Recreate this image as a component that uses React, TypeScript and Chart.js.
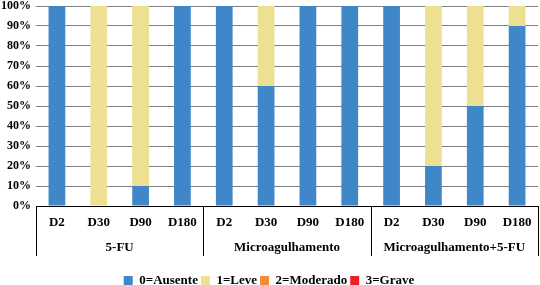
import React, { useEffect, useRef } from 'react';
import { Chart, registerables } from 'chart.js';

Chart.register(...registerables);

const days = ['D2', 'D30', 'D90', 'D180', 'D2', 'D30', 'D90', 'D180', 'D2', 'D30', 'D90', 'D180'];
const groups = ['5-FU', 'Microagulhamento', 'Microagulhamento+5-FU'];
const ausente = [100, 0, 10, 100, 100, 60, 100, 100, 100, 20, 50, 90];
const leve = [0, 100, 90, 0, 0, 40, 0, 0, 0, 80, 50, 10];
const moderado = [0, 0, 0, 0, 0, 0, 0, 0, 0, 0, 0, 0];
const grave = [0, 0, 0, 0, 0, 0, 0, 0, 0, 0, 0, 0];
const seriesNames = ['0=Ausente', '1=Leve', '2=Moderado', '3=Grave'];
const seriesColors = ['#3F87C8', '#EDE093', '#F58B37', '#EE1F2A'];

const FONT = '"Liberation Serif", serif';

const groupPlugin = {
  id: 'groupLabels',
  afterDraw(chart: any) {
    const x = chart.scales.x;
    const ctx = chart.ctx;
    const step = x.getPixelForValue(1) - x.getPixelForValue(0);
    const half = step / 2;
    ctx.save();
    ctx.strokeStyle = '#000';
    ctx.lineWidth = 1;
    const bounds: number[] = [];
    for (let g = 0; g <= groups.length; g++) {
      const idx = g * 4;
      const px = x.getPixelForValue(0) - half + idx * step;
      bounds.push(px);
      const sx = Math.round(px) + 0.5;
      ctx.beginPath();
      ctx.moveTo(sx, x.top);
      ctx.lineTo(sx, x.top + 50);
      ctx.stroke();
    }
    ctx.fillStyle = '#000';
    ctx.font = 'bold 13px ' + FONT;
    ctx.textAlign = 'center';
    ctx.textBaseline = 'middle';
    groups.forEach((name, g) => {
      const cx = (bounds[g] + bounds[g + 1]) / 2;
      ctx.fillText(name, cx, x.top + 41.5);
    });
    ctx.restore();
  },
};

export default function App() {
  const ref = useRef<HTMLCanvasElement | null>(null);
  useEffect(() => {
    if (!ref.current) return;
    const data = [ausente, leve, moderado, grave];
    const chart = new Chart(ref.current, {
      type: 'bar',
      data: {
        labels: days,
        datasets: data.map((d, i) => ({
          label: seriesNames[i],
          data: d,
          backgroundColor: seriesColors[i],
          borderWidth: 0,
          categoryPercentage: 1,
          barPercentage: 0.4,
        })),
      },
      options: {
        responsive: false,
        animation: false,
        devicePixelRatio: 1,
        layout: { padding: { top: 6, right: 2, left: 0, bottom: -12 } },
        plugins: {
          legend: {
            position: 'bottom',
            labels: {
              boxWidth: 9,
              boxHeight: 9,
              padding: 3,
              color: '#000',
              font: { family: FONT, size: 13, weight: 'bold', lineHeight: 1.1 },
            },
          },
          tooltip: { enabled: false },
        },
        scales: {
          x: {
            stacked: true,
            grid: { display: false },
            border: { display: true, color: '#000', width: 1 },
            ticks: {
              color: '#000',
              padding: 1,
              maxRotation: 0,
              autoSkip: false,
              font: { family: FONT, size: 13, weight: 'bold' },
            },
            afterFit(scale: any) {
              scale.height = 65;
            },
          },
          y: {
            stacked: true,
            min: 0,
            max: 100,
            border: { display: false },
            grid: { color: '#808080', drawTicks: false },
            ticks: {
              stepSize: 10,
              color: '#000',
              padding: 5,
              callback: (v: any) => v + '%',
              font: { family: FONT, size: 12, weight: 'bold' },
            },
            afterFit(scale: any) {
              scale.width = 36;
              scale.paddingTop = 0;
              scale.paddingBottom = 0;
            },
          },
        },
      },
      plugins: [groupPlugin],
    } as any);
    return () => chart.destroy();
  }, []);
  return (
    <div style={{ position: 'absolute', left: 0, top: 0, width: 540, height: 285, background: '#fff' }}>
      <canvas ref={ref} width={540} height={285} />
    </div>
  );
}
